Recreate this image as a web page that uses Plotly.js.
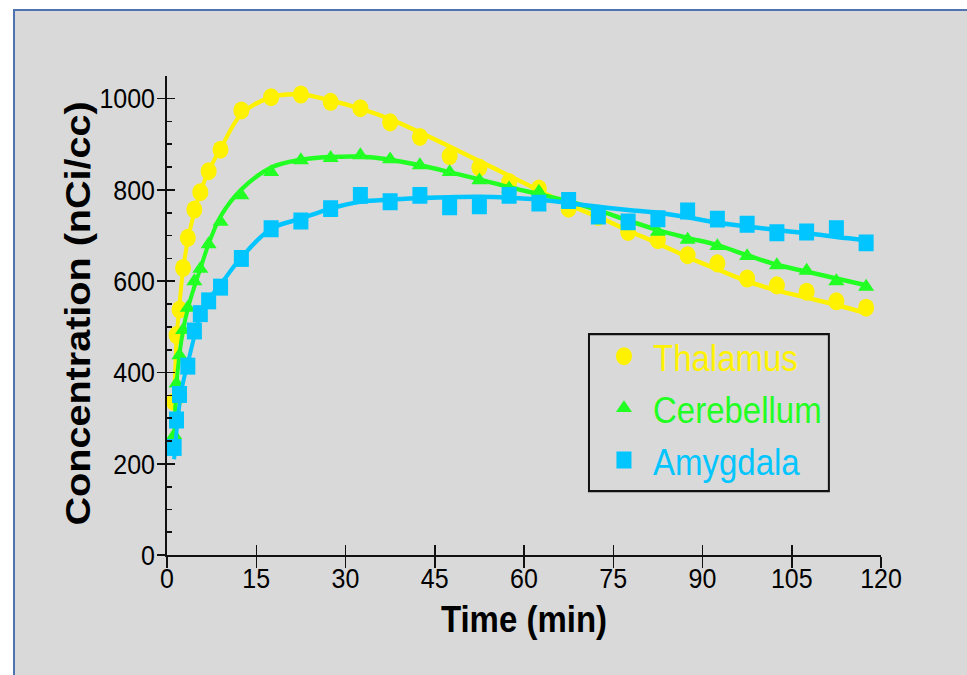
<!DOCTYPE html>
<html>
<head>
<meta charset="utf-8">
<script src="https://cdn.plot.ly/plotly-3.0.1.min.js"></script>
<style>
  html, body { margin: 0; padding: 0; background: #ffffff; width: 967px; height: 675px; overflow: hidden; }
  #frame {
    position: absolute; left: 13px; top: 9px; width: 960px; height: 670px;
    background: #d9d9d9; border-left: 2px solid #4f72b0; border-top: 2px solid #4f72b0;
  }
  #chart {
    position: absolute; left: 0; top: 0; width: 967px; height: 597px;
    transform: scaleY(1.1307); transform-origin: 0 0;
  }
</style>
</head>
<body>
<div id="frame"></div>
<div id="chart"></div>
<script>
// Sampling times (min)
const times = [1.2, 1.6, 2.1, 2.7, 3.5, 4.6, 5.6, 7, 9, 12.5,
  17.5, 22.5, 27.5, 32.5, 37.5, 42.5, 47.5, 52.5, 57.5, 62.5, 67.5,
  72.5, 77.5, 82.5, 87.5, 92.5, 97.5, 102.5, 107.5, 112.5, 117.5];

// Measured concentrations (nCi/cc)
const thalamus = [336, 482, 538, 629, 695, 757, 795, 841, 888, 974,
  1003, 1009, 993, 979, 948, 916, 874, 849, 817, 803, 759,
  741, 708, 690, 657, 639, 606, 591, 577, 556, 542];
const cerebellum = [263, 376, 438, 493, 542, 600, 627, 681, 730, 788,
  839, 865, 870, 876, 867, 854, 839, 821, 803, 796, 772,
  752, 730, 708, 691, 677, 655, 635, 623, 600, 588];
const amygdala = [236, 296, 352, null, 414, 491, 529, 557, 587, 650,
  715, 732, 759, 788, 774, 788, 763, 765, 788, 771, 777,
  743, 730, 737, 754, 736, 725, 706, 708, 715, 684];

// Model fit curves evaluated at the same times
const thalamusFit = [335, 470, 550, 625, 690, 752, 795, 842, 890, 966,
  1003, 1009, 996, 978, 955, 926, 895, 863, 831, 799, 767,
  741, 711, 683, 653, 626, 600, 580, 564, 548, 530];
const cerebellumFit = [255, 375, 440, 492, 540, 588, 627, 682, 742, 801,
  849, 866, 872, 873, 866, 854, 839, 823, 806, 791, 775,
  755, 733, 712, 695, 679, 657, 636, 621, 606, 591];
const amygdalaFit = [210, 270, 330, 378, 420, 480, 527, 560, 593, 652,
  715, 737, 759, 774, 779, 782, 784, 785, 783, 779, 771,
  763, 756, 750, 740, 728, 720, 712, 705, 697, 690];

const regions = ['Thalamus', 'Cerebellum', 'Amygdala'];
const colors = ['#FFF200', '#22FF22', '#00C5FF'];
const symbols = ['circle', 'triangle-up', 'square'];
const sizes = [16, 14, 15];
const measured = [thalamus, cerebellum, amygdala];
const fits = [thalamusFit, cerebellumFit, amygdalaFit];

const FONT = 'Arial, "Liberation Sans", sans-serif';
const traces = [];
regions.forEach((name, i) => {
  traces.push({
    x: times, y: fits[i], type: 'scatter', mode: 'lines',
    line: { color: colors[i], width: 4, shape: 'spline', smoothing: 1 },
    connectgaps: true, showlegend: false, hoverinfo: 'skip'
  });
  traces.push({
    x: times, y: measured[i], type: 'scatter', mode: 'markers',
    name: '<span style="color:' + colors[i] + '">' + name + '</span>',
    marker: { color: colors[i], symbol: symbols[i], size: sizes[i], line: { width: 0 } }
  });
});
// Empty trace so the overlaid tick-only axes (inner ticks) get drawn
traces.push({ x: [], y: [], xaxis: 'x2', yaxis: 'y2', type: 'scatter', mode: 'markers', showlegend: false, hoverinfo: 'skip' });

const tickFont = { family: FONT, size: 25, color: '#000000' };
const axisCommon = { showgrid: false, zeroline: false, tickcolor: '#111111', tickwidth: 1.5 };

const layout = {
  width: 967, height: 597,
  margin: { l: 167, r: 86, t: 67, b: 106, pad: 0 },
  paper_bgcolor: 'rgba(0,0,0,0)', plot_bgcolor: 'rgba(0,0,0,0)',
  font: { family: FONT, color: '#000000' },
  showlegend: true,
  legend: {
    x: 0.5994, y: 0.481, xanchor: 'left', yanchor: 'top',
    bgcolor: 'rgba(0,0,0,0)', borderwidth: 0,
    font: { family: FONT, size: 33, color: '#000000' },
    itemwidth: 48
  },
  shapes: [{
    type: 'rect', xref: 'paper', yref: 'paper',
    x0: 0.591, x1: 0.927, y0: 0.1335, y1: 0.461,
    line: { color: '#111111', width: 2 }, fillcolor: 'rgba(0,0,0,0)', layer: 'below'
  }],
  annotations: [{
    text: '<b>Concentration (nCi/cc)</b>', textangle: -90,
    xref: 'paper', yref: 'paper', x: -0.1246, y: 0.503,
    xanchor: 'center', yanchor: 'middle', showarrow: false,
    font: { family: FONT, size: 35, color: '#000000' }
  }],
  xaxis: Object.assign({}, axisCommon, {
    range: [0, 120], tick0: 0, dtick: 15, showline: true, linecolor: '#111111', linewidth: 2,
    ticks: 'outside', ticklen: 9, tickfont: tickFont, ticklabelstandoff: -12,
    title: { text: '<b>Time (min)</b>', font: { family: FONT, size: 33, color: '#000000' }, standoff: 12 }
  }),
  xaxis2: Object.assign({}, axisCommon, {
    overlaying: 'x', anchor: 'y', range: [0, 120], tick0: 0, dtick: 15,
    ticks: 'inside', ticklen: 9, showticklabels: false, showline: false
  }),
  yaxis: Object.assign({}, axisCommon, {
    range: [0, 1050], tick0: 0, dtick: 200, showline: true, linecolor: '#111111', linewidth: 2,
    ticks: 'outside', ticklen: 8, tickfont: tickFont, ticklabelstandoff: -3
  }),
  yaxis2: Object.assign({}, axisCommon, {
    overlaying: 'y', anchor: 'x', range: [0, 1050], tick0: 0, dtick: 200,
    ticks: 'inside', ticklen: 8, showticklabels: false, showline: false,
    minor: { ticks: 'inside', tick0: 0, dtick: 50, ticklen: 5, tickwidth: 1.5, tickcolor: '#111111' }
  })
};

Plotly.newPlot('chart', traces, layout, { displayModeBar: false, staticPlot: true });
</script>
</body>
</html>
